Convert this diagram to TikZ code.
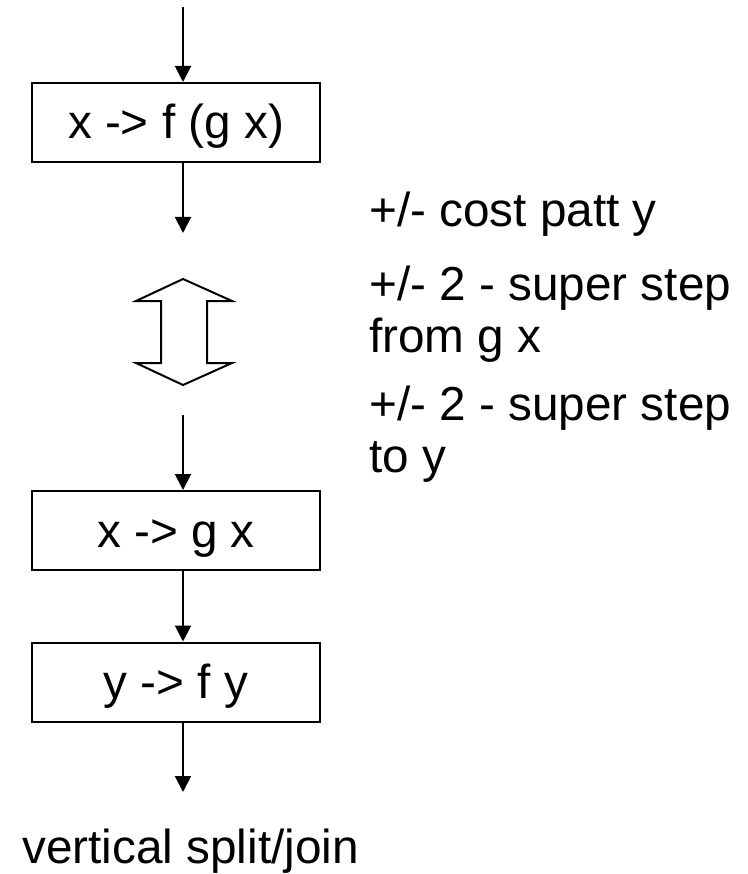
\documentclass[tikz,border=0pt]{standalone}
\usepackage{fontspec}
\setmainfont{Liberation Sans}
\usetikzlibrary{arrows.meta}
\begin{document}
\begin{tikzpicture}[x=1pt,y=-1pt,
  box/.style={draw,line width=2pt,minimum width=288pt,minimum height=79pt,inner sep=0pt,text height=33pt,text depth=0pt,font=\fontsize{47.7}{52}\selectfont},
  lbl/.style={inner sep=0pt,anchor=base west,align=left,font=\fontsize{47.7}{52}\selectfont},
  flow/.style={line width=2pt,-{Triangle[width=16pt,length=16pt]}}]
\useasboundingbox (0,0) rectangle (747,874);
\node[box] (b1) at (176,122.5) {x -> f (g x)};
\node[box] (b2) at (176,530.5) {x -> g x};
\node[box] (b3) at (176,682) {y -> f y};
\coordinate (t0) at (183,7);
\coordinate (t1) at (183,233);
\coordinate (t2) at (183,415);
\coordinate (t3) at (183,792);
\draw[flow] (t0) -- (t0 |- b1.north);
\draw[flow] (b1.south -| t0) -- (t1);
\draw[flow] (t2) -- (b2.north -| t0);
\draw[flow] (b2.south -| t0) -- (b3.north -| t0);
\draw[flow] (b3.south -| t0) -- (t3);
\draw[line width=2pt,line join=miter] (183,279) -- (232,301) -- (207,301) -- (207,363) -- (232,363) -- (183,385) -- (136,363) -- (161,363) -- (161,301) -- (136,301) -- cycle;
\node[lbl] (l1) at (369,227) {+/- cost patt y};
\node[lbl] (l2) at (369,352) {+/- 2 - super step\\from g x};
\node[lbl] (l3) at (369,472) {+/- 2 - super step\\to y};
\node[lbl] (l4) at (22,863) {vertical split/join};
\end{tikzpicture}
\end{document}
